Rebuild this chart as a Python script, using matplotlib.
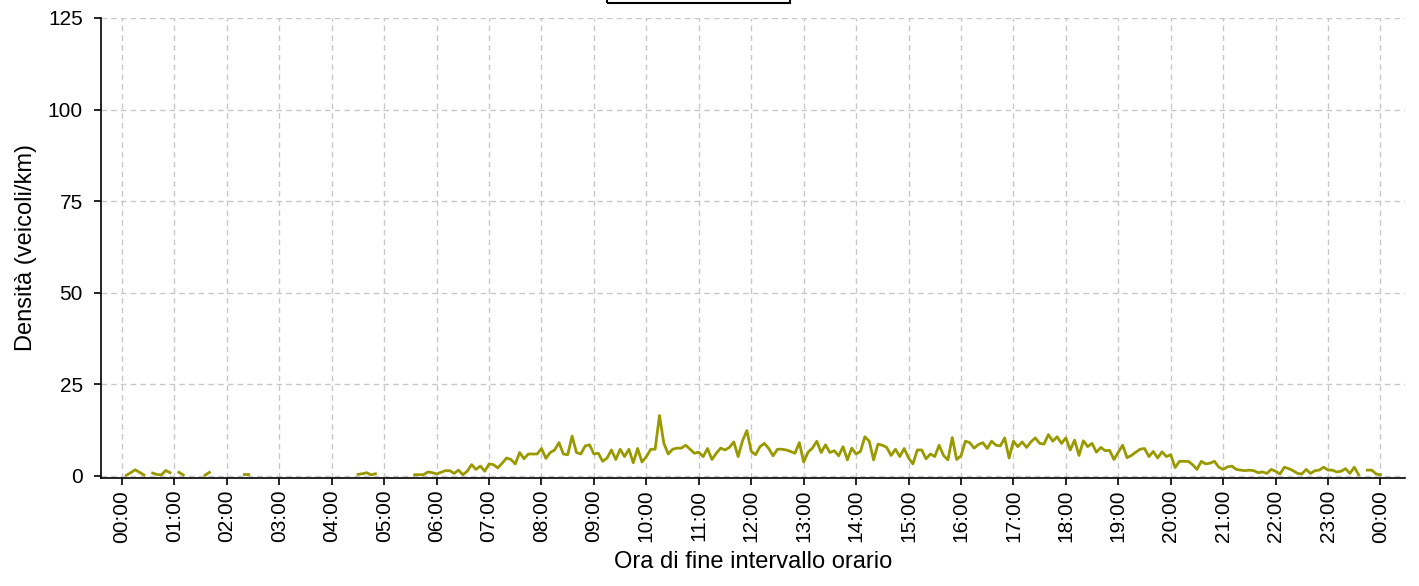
import numpy as np
import matplotlib.pyplot as plt
from matplotlib.patches import Rectangle

nan = np.nan

# densita' ogni 5 minuti (ora di fine intervallo 00:05 ... 24:00), una riga per ora
densita = [
    0.2, 0.9, 1.7, 1.0, 0.3, nan, 0.8, 0.4, 0.3, 1.5, 0.9, nan,
    1.0, 0.3, nan, nan, nan, nan, 0.2, 1.0, nan, nan, nan, nan,
    nan, nan, nan, 0.4, 0.4, nan, nan, nan, nan, nan, nan, nan,
    nan, nan, nan, nan, nan, nan, nan, nan, nan, nan, nan, nan,
    nan, nan, nan, nan, nan, 0.45, 0.6, 0.9, 0.3, 0.6, nan, nan,
    nan, nan, nan, nan, nan, nan, 0.35, 0.35, 0.35, 1.1, 0.9, 0.55,
    1.0, 1.45, 1.45, 0.7, 1.6, 0.35, 1.3, 3.1, 1.8, 2.7, 1.3, 3.3,
    3.1, 2.2, 3.5, 4.9, 4.5, 3.3, 6.4, 4.7, 6.0, 6.0, 6.0, 7.5,
    4.8, 6.4, 7.1, 9.1, 6.0, 5.8, 10.9, 6.4, 6.0, 8.2, 8.5, 6.0,
    6.2, 4.0, 4.9, 7.1, 4.5, 7.3, 5.3, 7.3, 3.6, 7.5, 3.8, 5.3,
    7.3, 7.3, 16.5, 8.9, 6.0, 7.3, 7.6, 7.6, 8.4, 7.3, 6.2, 6.5,
    5.3, 7.5, 4.5, 6.2, 7.6, 7.1, 7.8, 9.3, 5.3, 9.6, 12.4, 6.7,
    5.8, 8.0, 8.9, 7.5, 5.5, 7.3, 7.3, 7.1, 6.7, 6.2, 9.1, 3.8,
    6.5, 7.6, 9.5, 6.4, 8.5, 6.4, 6.9, 5.5, 8.0, 4.4, 7.6, 6.0,
    6.7, 10.7, 9.5, 4.4, 8.7, 8.4, 7.8, 5.6, 7.3, 5.3, 7.5, 4.9,
    3.3, 7.1, 7.1, 4.7, 6.0, 5.3, 8.4, 5.6, 4.4, 10.5, 4.5, 5.5,
    9.5, 9.1, 7.6, 8.6, 9.1, 7.5, 9.5, 8.4, 8.2, 10.4, 4.9, 9.5,
    8.0, 9.3, 7.8, 9.3, 10.4, 8.9, 8.7, 11.3, 9.5, 10.7, 8.9, 10.4,
    7.1, 9.8, 5.6, 9.6, 8.0, 8.9, 6.5, 7.8, 6.9, 7.0, 4.5, 6.5,
    8.4, 5.0, 5.6, 6.5, 7.3, 7.5, 5.3, 6.7, 4.9, 6.6, 5.3, 5.8,
    2.3, 4.0, 4.0, 4.0, 3.1, 1.8, 4.0, 3.3, 3.5, 4.0, 2.4, 1.8,
    2.5, 2.7, 1.8, 1.6, 1.45, 1.6, 1.45, 0.9, 1.1, 0.7, 1.8, 1.3,
    0.55, 2.4, 2.0, 1.45, 0.7, 0.55, 1.8, 0.7, 1.45, 1.6, 2.4, 1.6,
    1.6, 1.1, 1.3, 2.0, 0.7, 2.4, 0.35, nan, 1.6, 1.6, 0.55, 0.35,
]
minuti = np.arange(1, len(densita) + 1) * 5
etichette_ore = ['%02d:00' % (h % 24) for h in range(25)]
y_ticks = [0, 25, 50, 75, 100, 125]

plt.rcParams['font.family'] = ['Liberation Sans', 'DejaVu Sans']

fig = plt.figure(figsize=(14.19, 5.86), dpi=100)
ax = fig.add_axes([0.0712, 0.1843, 0.9189, 0.785])

ax.plot(minuti, densita, color='#999900', lw=2.0, zorder=3)

ax.set_xlim(-24, 1468)
ax.set_ylim(-0.55, 125)
ax.set_xticks(np.arange(25) * 60)
ax.set_xticklabels(etichette_ore, rotation=90, fontsize=15)
ax.set_yticks(y_ticks)
ax.set_yticklabels([str(v) for v in y_ticks], fontsize=15)
ax.tick_params(direction='out', length=5, width=1.2, color='black')
ax.tick_params(axis='y', pad=8)

ax.grid(True, color='#c8c8c8', linestyle=(0, (4, 3)), lw=1.0, zorder=0)
ax.spines['top'].set_visible(False)
ax.spines['right'].set_visible(False)
ax.spines['left'].set_linewidth(1.2)
ax.spines['bottom'].set_linewidth(1.2)

ax.set_xlabel('Ora di fine intervallo orario', fontsize=17, labelpad=6)
ax.set_ylabel('Densità (veicoli/km)', fontsize=17, labelpad=8)

# cornice della legenda, tagliata in alto
fig.patches.append(Rectangle((607 / 1419, 1 - 3 / 586), 183 / 1419, 0.05,
                             transform=fig.transFigure, fill=False,
                             edgecolor='black', lw=1.5))

fig.savefig('out.png', dpi=100)
